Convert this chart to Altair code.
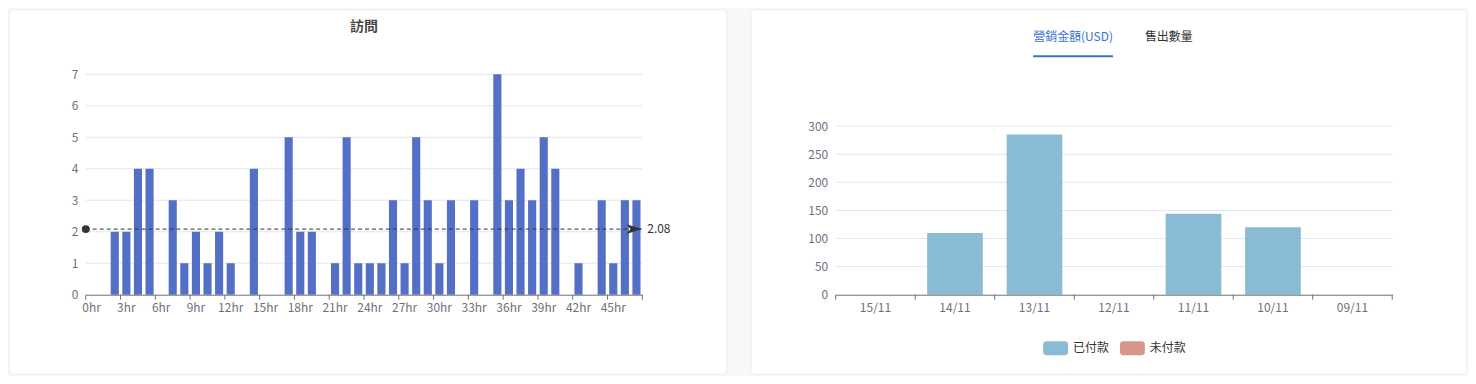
import altair as alt
import pandas as pd

# ---------------- data ----------------
hours = [f"{i}hr" for i in range(48)]
visits = [0, 0, 2, 2, 4, 4, 0, 3, 1, 2,
          1, 2, 1, 0, 4, 0, 0, 5, 2, 2,
          0, 1, 5, 1, 1, 1, 3, 1, 5, 3,
          1, 3, 0, 3, 0, 7, 3, 4, 3, 5,
          4, 0, 1, 0, 3, 1, 3, 3]
hour_ticks = hours[::3]
visit_ticks = [0, 1, 2, 3, 4, 5, 6, 7]

dates = ["15/11", "14/11", "13/11", "12/11", "11/11", "10/11", "09/11"]
paid_usd = [0, 110, 285, 0, 144, 120, 0]
unpaid_usd = [0, 0, 0, 0, 0, 0, 0]
usd_ticks = [0, 50, 100, 150, 200, 250, 300]
series_names = ["已付款", "未付款"]
series_colors = ["#8abbd4", "#d6968a"]

left_title = "訪問"
tabs = ["營銷金額(USD)", "售出數量"]

FONT = "Noto Sans CJK TC"
AXIS_GREY = "#6e7079"
GRID = "#e0e6f1"
W = 558
H = 221          # both plot areas share top and bottom edges
TOP2 = 52        # right chart's value axis starts 52px below the shared top

one = pd.DataFrame({"k": [0]})


def card(x0, x1):
    return alt.Chart(one).mark_rect(fill="white", stroke="#ebebeb", strokeWidth=1, cornerRadius=6).encode(
        x=alt.value(x0), x2=alt.value(x1), y=alt.value(-65), y2=alt.value(301)
    )


def x_axis(values=None):
    kw = dict(labelAngle=0, grid=False, zindex=1, ticks=False, tickSize=0, labelPadding=8,
              domainColor=AXIS_GREY, labelColor=AXIS_GREY, labelFontSize=12)
    if values is not None:
        kw["values"] = values
    return alt.Axis(**kw)


def y_axis(values):
    return alt.Axis(values=values, domain=False, ticks=False, tickSize=0, labelPadding=8,
                    labelOverlap=False, grid=False, zindex=1, labelColor=AXIS_GREY, labelFontSize=12)


def tick_layer(field, cats, scale):
    df = pd.DataFrame({field: cats})
    inner = alt.Chart(df).mark_rule(color=AXIS_GREY, strokeWidth=1).encode(
        x=alt.X(f"{field}:N", scale=scale, bandPosition=0, title=None),
        y=alt.value(H), y2=alt.value(H + 5),
    )
    end = alt.Chart(one).mark_rule(color=AXIS_GREY, strokeWidth=1).encode(
        x=alt.value(W), y=alt.value(H), y2=alt.value(H + 5)
    )
    return inner, end


# ---------------- left panel ----------------
df1 = pd.DataFrame({"hour": hours, "visits": visits})
x1_scale = alt.Scale(domain=hours, paddingInner=0, paddingOuter=0)
y1_scale = alt.Scale(domain=[0, 7], nice=False)
y1_axis = y_axis(visit_ticks)

grid1 = alt.Chart(pd.DataFrame({"v": visit_ticks[1:]})).mark_rule(color=GRID, strokeWidth=1).encode(
    y=alt.Y("v:Q", scale=y1_scale, axis=y1_axis, title=None), x=alt.value(0), x2=alt.value(W)
)

title1 = alt.Chart(one).mark_text(
    text=left_title, fontSize=14, fontWeight="bold", color="#464646", align="center", baseline="middle"
).encode(x=alt.value(W / 2), y=alt.value(-47))

bars1 = alt.Chart(df1).mark_bar(color="#5470c6", width={"band": 0.7}).encode(
    x=alt.X("hour:N", title=None, scale=x1_scale, axis=x_axis(hour_ticks)),
    y=alt.Y("visits:Q", title=None, scale=y1_scale, axis=y1_axis),
)
ticks1, end1 = tick_layer("hour", hour_ticks, x1_scale)

avg = alt.Chart(df1).transform_aggregate(avg="mean(visits)")
avg_y = alt.Y("avg:Q", title=None, scale=y1_scale, axis=y1_axis)
avg_rule = avg.mark_rule(color="#333333", strokeDash=[4, 3], strokeWidth=1).encode(
    y=avg_y, x=alt.value(0), x2=alt.value(W)
)
avg_dot = avg.mark_point(shape="circle", filled=True, size=64, color="#333333", opacity=1).encode(
    y=avg_y, x=alt.value(0)
)
avg_arrow = avg.mark_point(
    shape="M-1,-0.6 L1,0 L-1,0.6 L-0.45,0 Z", filled=True, size=256, color="#333333", opacity=1
).encode(y=avg_y, x=alt.value(W - 8))
avg_label = avg.mark_text(align="left", baseline="middle", color="#333333", fontSize=12).encode(
    y=avg_y, x=alt.value(W + 5), text=alt.Text("avg:Q", format=".2f")
)

left = alt.layer(
    card(-77, 643), grid1, bars1, ticks1, end1, avg_rule, avg_dot, avg_arrow, avg_label, title1
).properties(width=W, height=H)

# ---------------- right panel ----------------
rows = []
for i, d in enumerate(dates):
    rows.append({"date": d, "series": series_names[0], "value": paid_usd[i], "ord": 0})
    rows.append({"date": d, "series": series_names[1], "value": unpaid_usd[i], "ord": 1})
df2 = pd.DataFrame(rows)
x2_scale = alt.Scale(domain=dates, paddingInner=0, paddingOuter=0)
y2_scale = alt.Scale(domain=[0, 300], nice=False, range=[H, TOP2])
y2_axis = y_axis(usd_ticks)

grid2 = alt.Chart(pd.DataFrame({"v": usd_ticks[1:]})).mark_rule(color=GRID, strokeWidth=1).encode(
    y=alt.Y("v:Q", scale=y2_scale, axis=y2_axis, title=None), x=alt.value(0), x2=alt.value(W)
)

tab_active = alt.Chart(one).mark_text(
    text=tabs[0], fontSize=12, color="#3b6fd4", align="center", baseline="middle"
).encode(x=alt.value(238), y=alt.value(-37))
tab_other = alt.Chart(one).mark_text(
    text=tabs[1], fontSize=12, color="#333333", align="center", baseline="middle"
).encode(x=alt.value(334), y=alt.value(-37))
tab_line = alt.Chart(one).mark_rect(color="#3b6fd4").encode(
    x=alt.value(198), x2=alt.value(278), y=alt.value(-19), y2=alt.value(-17)
)

legend_shape = ("M-0.72,-0.56 L0.72,-0.56 Q1,-0.56 1,-0.28 L1,0.28 Q1,0.56 0.72,0.56 "
                "L-0.72,0.56 Q-1,0.56 -1,0.28 L-1,-0.28 Q-1,-0.56 -0.72,-0.56 Z")

bars2 = alt.Chart(df2).mark_bar(width={"band": 0.7}).encode(
    x=alt.X("date:N", title=None, scale=x2_scale, axis=x_axis()),
    y=alt.Y("value:Q", title=None, stack="zero", scale=y2_scale, axis=y2_axis),
    color=alt.Color(
        "series:N", sort=series_names,
        scale=alt.Scale(domain=series_names, range=series_colors),
        legend=alt.Legend(
            orient="none", legendX=208, legendY=262, direction="horizontal", title=None,
            symbolType=legend_shape, symbolSize=625, symbolStrokeWidth=0, symbolOpacity=1,
            labelFontSize=12, labelColor="#333333", columnPadding=10, labelOffset=5, padding=0,
        ),
    ),
    order=alt.Order("ord:Q"),
)
ticks2, end2 = tick_layer("date", dates, x2_scale)

right = alt.layer(
    card(-85, 633), grid2, bars2, ticks2, end2, tab_line, tab_active, tab_other
).properties(width=W, height=H)

chart = (
    alt.hconcat(left, right, spacing=22)
    .resolve_legend(color="independent")
    .properties(padding=0, background="#f8f8f8")
    .configure(font=FONT)
    .configure_axis(grid=False)
    .configure_view(strokeWidth=0)
)

chart.save("out.html", embed_options={"renderer": "svg", "actions": False})
